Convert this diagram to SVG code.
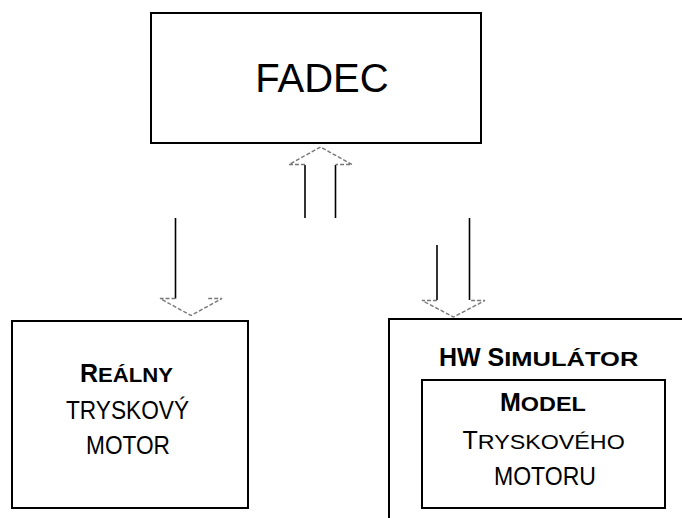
<svg xmlns="http://www.w3.org/2000/svg" width="682" height="518" viewBox="0 0 682 518">
<style>
.box{fill:#fff;stroke:#000;stroke-width:2}
.stem{stroke:#000;stroke-width:1.6;fill:none}
.head{stroke:#777;stroke-width:1.4;fill:none;stroke-dasharray:4 2}
text{font-family:"Liberation Sans",Arial,Helvetica,sans-serif;fill:#000;font-size:25px}
.t{text-anchor:middle}
.b{font-weight:bold}
.sc{font-size:19.5px}
</style>
<rect width="682" height="518" fill="#fff"/>
<g id="fadec">
<rect class="box" x="151" y="13" width="330" height="130"/>
<text x="322" y="92" style="font-size:40px;text-anchor:middle">FADEC</text>
</g>
<g id="realny">
<rect class="box" x="12" y="321" width="236" height="187"/>
<text class="b" x="80" y="381.5">R<tspan class="sc" textLength="75" lengthAdjust="spacingAndGlyphs">EÁLNY</tspan></text>
<text x="66" y="419" textLength="123" lengthAdjust="spacingAndGlyphs">TRYSKOVÝ</text>
<text x="86" y="454" textLength="84" lengthAdjust="spacingAndGlyphs">MOTOR</text>
</g>
<g id="hwsim">
<path class="box" d="M389,530 V319 H690" fill="none"/>
<text class="b" x="439" y="366">HW S<tspan class="sc" textLength="134" lengthAdjust="spacingAndGlyphs">IMULÁTOR</tspan></text>
<g id="model">
<rect class="box" x="422" y="380" width="243" height="128"/>
<text class="b" x="500" y="411">M<tspan class="sc" textLength="65" lengthAdjust="spacingAndGlyphs">ODEL</tspan></text>
<text x="462.5" y="448.5">T<tspan class="sc" textLength="147" lengthAdjust="spacingAndGlyphs">RYSKOVÉHO</tspan></text>
<text x="494" y="485" textLength="102" lengthAdjust="spacingAndGlyphs">MOTORU</text>
</g>
</g>
<g id="connectors">
<path class="stem" d="M305,218 V165 M335.5,218 V165"/>
<path class="head" d="M305,164.5 H289 L320.5,147 L352,164.5 H335.5"/>
<path class="stem" d="M175.5,218 V298.5"/>
<path class="head" d="M175.5,298.5 H160 L191,315.5 L222,298.5 H206.5"/>
<path class="stem" d="M437,245 V300 M469.5,218 V300"/>
<path class="head" d="M437,300.5 H422 L453.5,317 L485,300.5 H469.5"/>
</g>
</svg>
